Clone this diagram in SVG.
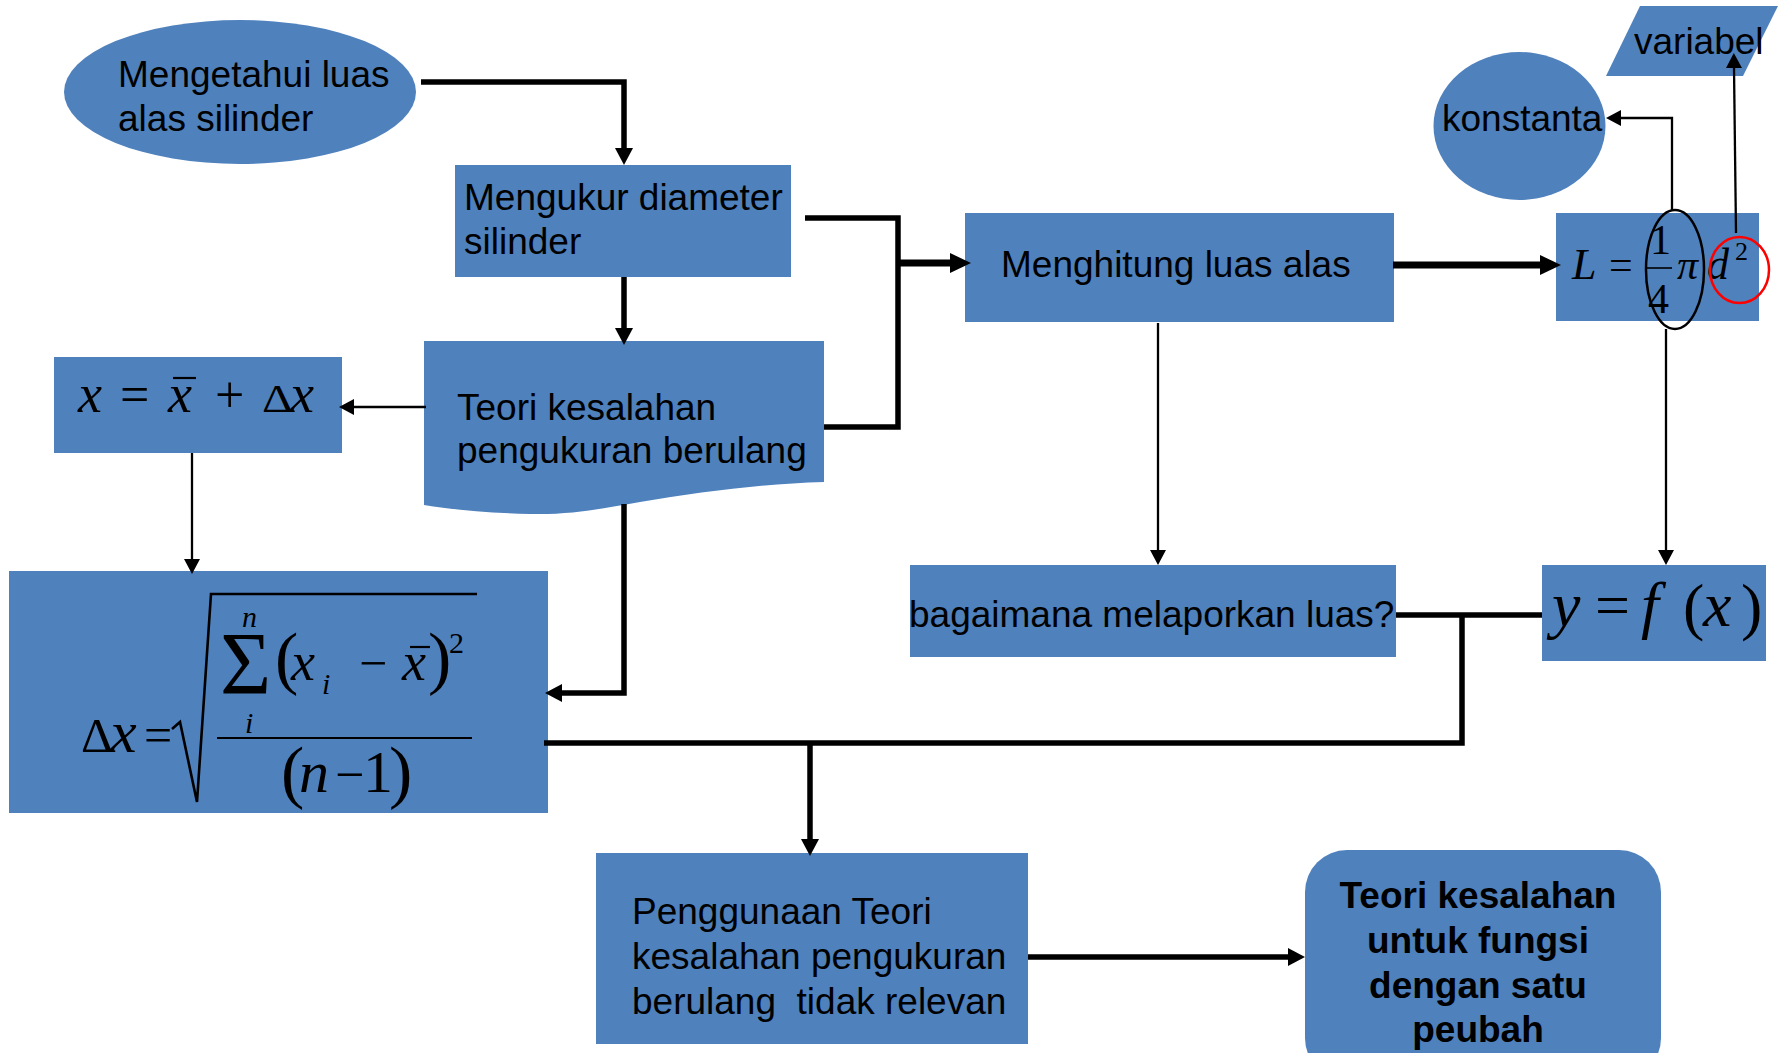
<svg xmlns="http://www.w3.org/2000/svg" width="1783" height="1053" viewBox="0 0 1783 1053">
<style>
.node{fill:#4F81BD}
.lbl{font-family:"Liberation Sans",Arial,sans-serif;font-size:37px;fill:#000}
.bold{font-family:"Liberation Sans",Arial,sans-serif;font-size:37px;font-weight:bold;fill:#000}
.m{font-family:"Liberation Serif","Times New Roman",serif;fill:#000}
.i{font-style:italic}
.thick{fill:none;stroke:#000;stroke-width:5.5}
.heavy{fill:none;stroke:#000;stroke-width:7}
.thin{fill:none;stroke:#000;stroke-width:2.3}
.mline{stroke:#000;stroke-width:2.2;fill:none}
</style>
<defs>
<marker id="ahL" markerUnits="userSpaceOnUse" viewBox="0 -11 22 22" markerWidth="22" markerHeight="22" refX="0" refY="0" orient="auto" overflow="visible"><path d="M0,-10 L21,0 L0,10 z" fill="#000"/></marker>
<marker id="ahM" markerUnits="userSpaceOnUse" viewBox="0 -10 18 20" markerWidth="18" markerHeight="20" refX="0" refY="0" orient="auto" overflow="visible"><path d="M0,-9 L17,0 L0,9 z" fill="#000"/></marker>
<marker id="ahS" markerUnits="userSpaceOnUse" viewBox="0 -9 16 18" markerWidth="16" markerHeight="18" refX="0" refY="0" orient="auto" overflow="visible"><path d="M0,-8 L15,0 L0,8 z" fill="#000"/></marker>
</defs>

<g id="n-mengetahui">
<ellipse class="node" cx="240" cy="92" rx="176" ry="72"/>
<text class="lbl" x="118" y="87">Mengetahui luas</text>
<text class="lbl" x="118" y="131">alas silinder</text>
</g>

<g id="n-mengukur">
<rect class="node" x="455" y="165" width="336" height="112"/>
<text class="lbl" x="464" y="210">Mengukur diameter</text>
<text class="lbl" x="464" y="254">silinder</text>
</g>

<g id="n-teori">
<path class="node" d="M424,341 H824 V482 C760,484 700,492 640,502 C600,509 570,515 530,514 C490,513 455,510 424,505 Z"/>
<text class="lbl" x="457" y="420">Teori kesalahan</text>
<text class="lbl" x="457" y="463">pengukuran berulang</text>
</g>

<g id="n-xbox">
<rect class="node" x="54" y="357" width="288" height="96"/>
<text class="m i" x="78" y="412" font-size="54">x</text>
<text class="m" x="120" y="412" font-size="52">=</text>
<text class="m i" x="168" y="412" font-size="54">x</text>
<line class="mline" x1="173" y1="378" x2="196" y2="378"/>
<text class="m" x="215" y="412" font-size="52">+</text>
<text class="m" x="262" y="412" font-size="40" textLength="31" lengthAdjust="spacingAndGlyphs">Δ</text>
<text class="m i" x="290" y="412" font-size="54">x</text>
</g>

<g id="n-deltax">
<rect class="node" x="9" y="571" width="539" height="242"/>
<text class="m" x="81" y="752" font-size="48" textLength="32" lengthAdjust="spacingAndGlyphs">Δ</text>
<text class="m i" x="110" y="752" font-size="60">x</text>
<text class="m" x="144" y="752" font-size="50">=</text>
<path d="M172,729 L180,722 L197,802 L211,594 H477" stroke="#000" stroke-width="2.6" fill="none"/>
<text class="m" x="220" y="693" font-size="88">Σ</text>
<text class="m i" x="242" y="627" font-size="30">n</text>
<text class="m i" x="245" y="733" font-size="30">i</text>
<text class="m" x="275" y="681" font-size="70">(</text>
<text class="m i" x="291" y="680" font-size="54">x</text>
<text class="m i" x="322" y="694" font-size="30">i</text>
<text class="m" x="359" y="680" font-size="50">−</text>
<text class="m i" x="402" y="680" font-size="54">x</text>
<line class="mline" x1="410" y1="647" x2="430" y2="647"/>
<text class="m" x="428" y="681" font-size="70">)</text>
<text class="m" x="449" y="653" font-size="30">2</text>
<line class="mline" x1="217" y1="738" x2="472" y2="738"/>
<text class="m" x="281" y="795" font-size="70">(</text>
<text class="m i" x="299" y="792" font-size="60">n</text>
<text class="m" x="335" y="792" font-size="52">−</text>
<text class="m" x="363" y="792" font-size="60">1</text>
<text class="m" x="389" y="795" font-size="70">)</text>
</g>

<g id="n-menghitung">
<rect class="node" x="965" y="213" width="429" height="109"/>
<text class="lbl" x="1001" y="277">Menghitung luas alas</text>
</g>

<g id="n-L">
<rect class="node" x="1556" y="213" width="203" height="108"/>
<text class="m i" x="1572" y="279" font-size="44">L</text>
<text class="m" x="1609" y="279" font-size="42">=</text>
<text class="m" x="1650" y="254" font-size="42">1</text>
<line x1="1647" y1="268" x2="1672" y2="268" stroke="#000" stroke-width="1.6"/>
<text class="m" x="1648" y="313" font-size="42">4</text>
<text class="m i" x="1677" y="279" font-size="42">π</text>
<text class="m i" x="1707" y="279" font-size="44">d</text>
<text class="m" x="1735" y="260" font-size="26">2</text>
<ellipse cx="1675" cy="269.5" rx="29" ry="59.5" fill="none" stroke="#000" stroke-width="2.5"/>
<ellipse cx="1739.5" cy="270" rx="29.5" ry="33" fill="none" stroke="#FF0000" stroke-width="2.5"/>
</g>

<g id="n-konstanta">
<ellipse class="node" cx="1519.5" cy="126" rx="86" ry="74"/>
<text class="lbl" x="1442" y="131">konstanta</text>
</g>

<g id="n-variabel">
<polygon class="node" points="1640,6 1778,6 1743,76 1606,76"/>
<text class="lbl" x="1634" y="54">variabel</text>
</g>

<g id="n-bagaimana">
<rect class="node" x="910" y="565" width="486" height="92"/>
<text class="lbl" x="909" y="627">bagaimana melaporkan luas?</text>
</g>

<g id="n-yfx">
<rect class="node" x="1542" y="565" width="224" height="96"/>
<text class="m i" x="1552" y="626" font-size="64">y</text>
<text class="m" x="1595" y="626" font-size="62">=</text>
<text class="m i" x="1641" y="626" font-size="64">f</text>
<text class="m" x="1683" y="628" font-size="64">(</text>
<text class="m i" x="1703" y="626" font-size="64">x</text>
<text class="m" x="1741" y="628" font-size="64">)</text>
</g>

<g id="n-penggunaan">
<rect class="node" x="596" y="853" width="432" height="191"/>
<text class="lbl" x="632" y="924">Penggunaan Teori</text>
<text class="lbl" x="632" y="969">kesalahan pengukuran</text>
<text class="lbl" x="632" y="1014" style="white-space:pre">berulang  tidak relevan</text>
</g>

<g id="n-teorifungsi">
<rect class="node" x="1305" y="850" width="356" height="230" rx="42" ry="42"/>
<text class="bold" x="1478" y="908" text-anchor="middle">Teori kesalahan</text>
<text class="bold" x="1478" y="953" text-anchor="middle">untuk fungsi</text>
<text class="bold" x="1478" y="998" text-anchor="middle">dengan satu</text>
<text class="bold" x="1478" y="1042" text-anchor="middle">peubah</text>
</g>

<g id="connectors">
<path class="thick" d="M421,82 H624 V148" marker-end="url(#ahM)"/>
<path class="thick" d="M624,277 V328" marker-end="url(#ahM)"/>
<path class="thick" d="M805,218 H898 V427 H824"/>
<path class="heavy" d="M898,263 H950" marker-end="url(#ahL)"/>
<path class="heavy" d="M1393,265 H1540" marker-end="url(#ahL)"/>
<path class="thin" d="M426,407 H354" marker-end="url(#ahS)"/>
<path class="thin" d="M192,453 V559" marker-end="url(#ahS)"/>
<path class="thick" d="M624,504 V693 H562" marker-end="url(#ahM)"/>
<path class="thick" d="M544,743 H1462 V615"/>
<path class="thick" d="M1396,615 H1542"/>
<path class="thick" d="M810,743 V839" marker-end="url(#ahM)"/>
<path class="thin" d="M1158,323 V550" marker-end="url(#ahS)"/>
<path class="thin" d="M1666,329 V550" marker-end="url(#ahS)"/>
<path class="thin" d="M1672,210 V118 H1621" marker-end="url(#ahS)"/>
<path class="thin" d="M1736,233 L1734,68" marker-end="url(#ahS)"/>
<path class="thick" d="M1028,957 H1288" marker-end="url(#ahM)"/>
</g>
</svg>
